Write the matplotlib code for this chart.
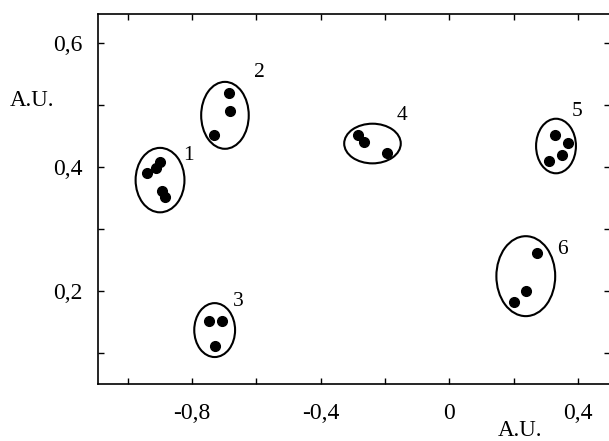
import matplotlib
matplotlib.use("Agg")
import matplotlib.pyplot as plt
from matplotlib.patches import Ellipse

plt.rcParams['font.family'] = ['Liberation Serif', 'DejaVu Serif']

# points of each cluster
pointX = [-0.942, -0.914, -0.899, -0.893, -0.884,
          -0.686, -0.682, -0.732,
          -0.747, -0.707, -0.729,
          -0.283, -0.265, -0.194,
          0.329, 0.369, 0.351, 0.310,
          0.273, 0.239, 0.202]
pointY = [0.390, 0.399, 0.409, 0.362, 0.351,
          0.520, 0.491, 0.452,
          0.152, 0.152, 0.112,
          0.451, 0.441, 0.422,
          0.451, 0.439, 0.420, 0.410,
          0.261, 0.200, 0.182]

# ellipses drawn round the clusters
clusterNames = ["1", "2", "3", "4", "5", "6"]
ellX = [-0.900, -0.698, -0.730, -0.239, 0.332, 0.238]
ellY = [0.379, 0.4835, 0.137, 0.438, 0.434, 0.224]
ellW = [0.152, 0.148, 0.127, 0.176, 0.124, 0.183]
ellH = [0.104, 0.108, 0.087, 0.064, 0.088, 0.129]
labelX = [-0.810, -0.592, -0.658, -0.147, 0.397, 0.353]
labelY = [0.418, 0.552, 0.183, 0.483, 0.489, 0.267]

xTicks = [-1.0, -0.8, -0.6, -0.4, -0.2, 0.0, 0.2, 0.4]
xTickLabels = ["", "-0,8", "", "-0,4", "", "0", "", "0,4"]
yTicks = [0.1, 0.2, 0.3, 0.4, 0.5, 0.6]
yTickLabels = ["", "0,2", "", "0,4", "", "0,6"]

fig = plt.figure(figsize=(6.09, 4.41), dpi=100)
ax = fig.add_axes([98/609, 57/441, 512/609, 370/441])

ax.plot(pointX, pointY, 'o', color='black', markersize=7)
for i in range(len(clusterNames)):
    ax.add_patch(Ellipse((ellX[i], ellY[i]), ellW[i], ellH[i],
                         fill=False, edgecolor='black', linewidth=1.5))
    ax.text(labelX[i], labelY[i], clusterNames[i], fontsize=15.5,
            ha='center', va='center')

ax.set_xlim(-1.093, 0.5)
ax.set_ylim(0.05, 0.647)
ax.set_xticks(xTicks)
ax.set_xticklabels(xTickLabels)
ax.set_yticks(yTicks)
ax.set_yticklabels(yTickLabels)
ax.tick_params(direction='in', length=4.5, width=1, top=True, right=True,
               labelsize=17, pad=11)
ax.tick_params(axis='x', pad=14)
ax.spines['right'].set_visible(False)
for s in ['left', 'bottom', 'top']:
    ax.spines[s].set_linewidth(1.2)

fig.text(10/609, 1 - 100/441, "A.U.", fontsize=16.5, ha='left', va='center')
fig.text(520/609, 1 - 431/441, "A.U.", fontsize=16.5, ha='center', va='center')

fig.savefig("out.png", dpi=100)
